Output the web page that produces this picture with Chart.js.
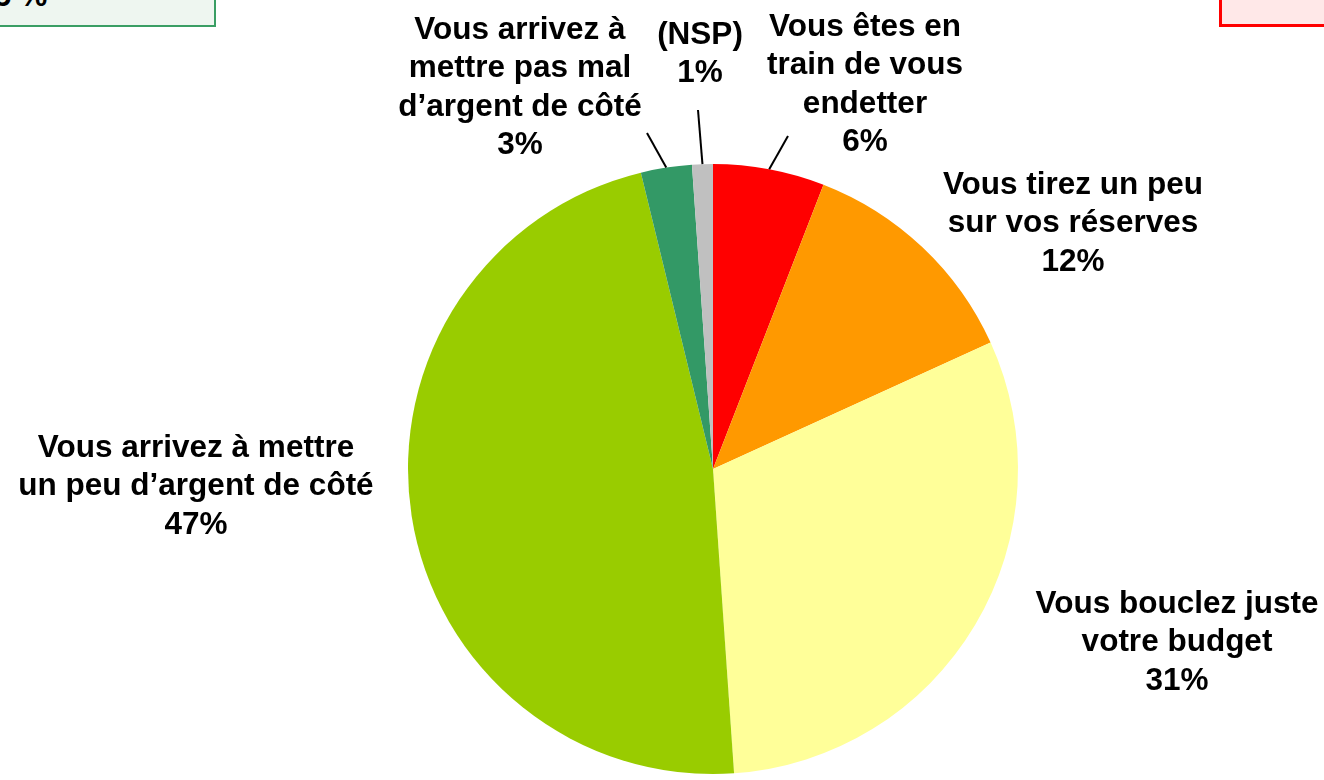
<!DOCTYPE html>
<html>
<head>
<meta charset="utf-8">
<script src="https://cdn.jsdelivr.net/npm/chart.js@4.4.0/dist/chart.umd.min.js"></script>
<style>
  html, body { margin: 0; padding: 0; background: #fff; }
  #wrap { position: relative; width: 1324px; height: 780px; overflow: hidden; }
  .box { position: absolute; box-sizing: border-box; }
  #boxLeft { left: -10px; top: -30px; width: 226px; height: 57px; background: #EEF6F0; border: 2px solid #3A9E64;
    font: bold 31px "Liberation Sans", Arial, sans-serif; color: #000; }
  #boxLeft span { position: absolute; left: 2px; top: 6px; }
  #boxRight { left: 1219px; top: -30px; width: 130px; height: 57px; background: #FFE8E8; border: 3px solid #FF0000; }
</style>
</head>
<body>
<div id="wrap">
  <canvas id="chart" width="1324" height="780"></canvas>
  <div class="box" id="boxLeft"><span>5 %</span></div>
  <div class="box" id="boxRight"></div>
</div>
<script>
var categories = [
    ['Vous êtes en', 'train de vous', 'endetter'],
    ['Vous tirez un peu', 'sur vos réserves'],
    ['Vous bouclez juste', 'votre budget'],
    ['Vous arrivez à mettre', 'un peu d\u2019argent de côté'],
    ['Vous arrivez à', 'mettre pas mal', 'd\u2019argent de côté'],
    ['(NSP)']
];
var values = [5.9, 12.3, 30.7, 47.3, 2.7, 1.1];
var colors = ['#FF0000', '#FF9900', '#FFFF99', '#99CC00', '#339966', '#C0C0C0'];

// where each label block sits (center x, first line y) and optional leader end
var labelPos = [
    { x: 865, y: 27, leader: { x: 788, y: 136 } },
    { x: 1073, y: 185 },
    { x: 1177, y: 604 },
    { x: 196, y: 448 },
    { x: 520, y: 30, leader: { x: 647, y: 133 } },
    { x: 700, y: 35, leader: { x: 698, y: 110 } }
];

var labelPlugin = {
    id: 'sliceLabels',
    afterDraw: function (chart) {
        var ctx = chart.ctx;
        var meta = chart.getDatasetMeta(0);
        ctx.save();
        ctx.font = 'bold 31.5px "Liberation Sans", Arial, sans-serif';
        ctx.fillStyle = '#000';
        ctx.textAlign = 'center';
        ctx.textBaseline = 'middle';
        meta.data.forEach(function (arc, i) {
            var pos = labelPos[i];
            var lines = categories[i].concat([Math.round(values[i]) + '%']);
            lines.forEach(function (line, k) {
                ctx.fillText(line, pos.x, pos.y + k * 38.5);
            });
            if (pos.leader) {
                var p = arc.getProps(['x', 'y', 'startAngle', 'endAngle', 'outerRadius'], true);
                var mid = (p.startAngle + p.endAngle) / 2;
                var sx = p.x + Math.cos(mid) * p.outerRadius;
                var sy = p.y + Math.sin(mid) * p.outerRadius;
                ctx.beginPath();
                ctx.strokeStyle = '#000';
                ctx.lineWidth = 2;
                ctx.moveTo(sx, sy);
                ctx.lineTo(pos.leader.x, pos.leader.y);
                ctx.stroke();
            }
        });
        ctx.restore();
    }
};

var config = {
    type: 'pie',
    data: {
        labels: categories,
        datasets: [{
            data: values,
            backgroundColor: colors,
            borderWidth: 0
        }]
    },
    options: {
        responsive: false,
        animation: false,
        rotation: 0,
        layout: { padding: { left: 408, right: 306, top: 163, bottom: 5 } },
        plugins: {
            legend: { display: false },
            tooltip: { enabled: false }
        }
    },
    plugins: [labelPlugin]
};

var ctx = document.getElementById('chart').getContext('2d');
window.myPie = new Chart(ctx, config);
</script>
</body>
</html>
